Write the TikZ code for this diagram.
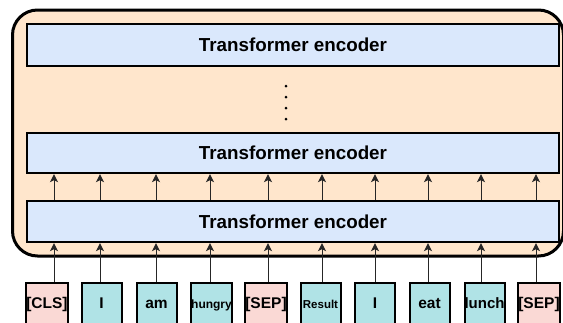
\documentclass[tikz,border=0pt]{standalone}
\usepackage{fontspec}
\setmainfont{Liberation Sans}
\usetikzlibrary{arrows.meta,calc}
\definecolor{peach}{HTML}{FFE6CC}
\definecolor{encblue}{HTML}{DAE8FC}
\definecolor{tokteal}{HTML}{B0E3E6}
\definecolor{tokpink}{HTML}{FAD9D5}
\begin{document}
\begin{tikzpicture}[x=1pt,y=-1pt,
  outerbox/.style={draw=black, line width=3pt, fill=peach, rounded corners=25pt, inner sep=0pt},
  encbox/.style={draw=black, line width=2.4pt, fill=encblue, minimum width=532pt, inner sep=0pt,
    font=\fontsize{18.8}{20}\bfseries\selectfont},
  tok/.style={draw=black, line width=2pt, minimum width=40pt, minimum height=42pt, inner sep=0pt,
    text height=11.5pt, text depth=3pt, font=\fontsize{15.5}{17}\bfseries\selectfont},
  tokb/.style={tok, fill=tokteal},
  tokr/.style={tok, fill=tokpink},
  arr/.style={-{Stealth[length=8pt,width=8pt,inset=2pt]}, line width=1pt, draw=black!85},
  dotmark/.style={fill=black, inner sep=0pt, minimum size=3pt, circle}]
\useasboundingbox (0,0) rectangle (563,322);
\node[outerbox, minimum width=551pt, minimum height=246pt] (outer) at (288,133) {};
\node[encbox, minimum height=42pt] (enc3) at (293,45) {Transformer encoder};
\node[encbox, minimum height=40pt] (enc2) at (293,153) {Transformer encoder};
\node[encbox, minimum height=41pt] (enc1) at (293,221.5) {Transformer encoder};
\node[dotmark] (d1) at (286,86) {};
\node[dotmark] (d2) at (286,97) {};
\node[dotmark] (d3) at (286,108) {};
\node[dotmark] (d4) at (286,119) {};
\node[tokr] (t1) at (47,304) {[CLS]};
\node[tokb] (t2) at (101.5,304) {I};
\node[tokb] (t3) at (156.5,304) {am};
\node[tokb, font=\fontsize{12}{13}\bfseries\selectfont] (t4) at (211.5,304) {hungry};
\node[tokr] (t5) at (266,304) {[SEP]};
\node[tokb, font=\fontsize{11.5}{13}\bfseries\selectfont] (t6) at (320.5,304) {Result};
\node[tokb] (t7) at (375,304) {I};
\node[tokb] (t8) at (429.5,304) {eat};
\node[tokb, font=\fontsize{15}{17}\bfseries\selectfont] (t9) at (484.5,304) {lunch};
\node[tokr] (t10) at (539,304) {[SEP]};
\foreach \i/\o in {1/7,2/-1.5,3/-0.5,4/-1.5,5/2,6/1.5,7/0,8/-1.5,9/-3.5,10/-3}{
  \coordinate (a\i) at ($(t\i.north)+(\o,0)$);
  \draw[arr] (a\i) -- (a\i |- enc1.south);
  \draw[arr] (a\i |- enc1.north) -- (a\i |- enc2.south);
}
\end{tikzpicture}
\end{document}
